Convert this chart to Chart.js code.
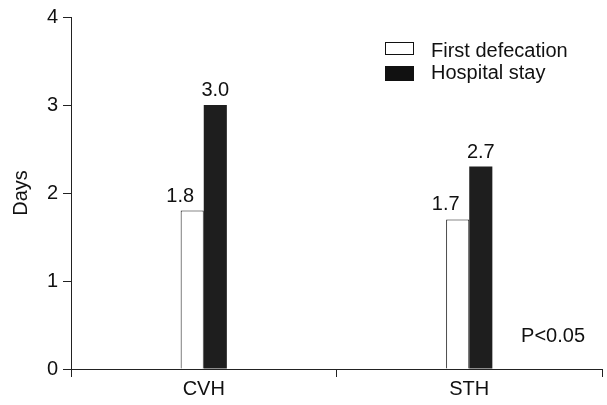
<!DOCTYPE html>
<html>
<head>
<meta charset="utf-8">
<script src="https://cdn.jsdelivr.net/npm/chart.js@4/dist/chart.umd.min.js"></script>
<style>
    html, body { margin: 0; padding: 0; background: #fff; }
    #wrap { width: 607px; height: 405px; }
</style>
</head>
<body>
<div id="wrap"><canvas id="daysChart"></canvas></div>
<script>
    // data
    const groups = ['CVH', 'STH'];
    const firstDefecation = [1.8, 1.7];
    const hospitalStay = [3.0, 2.3];
    // printed labels (the STH hospital stay bar is drawn lower than its printed value)
    const firstDefecationLabels = ['1.8', '1.7'];
    const hospitalStayLabels = ['3.0', '2.7'];
    const yTicks = [0, 1, 2, 3, 4];

    const FONT = 'Liberation Sans, Arial, Helvetica, sans-serif';
    const FS = 20;
    const AXIS = '#222';

    // value labels above bars
    const valueLabels = {
        id: 'valueLabels',
        afterDatasetsDraw(chart) {
            const ctx = chart.ctx;
            const sets = [
                { idx: 0, text: firstDefecationLabels, shift: -12 },
                { idx: 1, text: hospitalStayLabels, shift: 0 }
            ];
            ctx.save();
            ctx.font = FS + 'px ' + FONT;
            ctx.fillStyle = '#111';
            ctx.textAlign = 'center';
            ctx.textBaseline = 'alphabetic';
            sets.forEach(s => {
                chart.getDatasetMeta(s.idx).data.forEach((bar, i) => {
                    ctx.fillText(s.text[i], bar.x + s.shift, bar.y - 9);
                });
            });
            ctx.restore();
        }
    };

    // legend inside the plot + p value note
    const innerLegend = {
        id: 'innerLegend',
        afterDraw(chart) {
            const ctx = chart.ctx;
            const a = chart.chartArea;
            const x = a.left + 314;
            ctx.save();
            ctx.lineWidth = 1;
            ctx.strokeStyle = '#111';
            ctx.fillStyle = '#fff';
            ctx.fillRect(x + 0.5, 42.5, 28, 12);
            ctx.strokeRect(x + 0.5, 42.5, 28, 12);
            ctx.fillStyle = '#111';
            ctx.fillRect(x, 66, 29, 15);

            ctx.font = FS + 'px ' + FONT;
            ctx.textBaseline = 'alphabetic';
            ctx.textAlign = 'left';
            ctx.fillText(chart.data.datasets[0].label, x + 46, 57);
            ctx.fillText(chart.data.datasets[1].label, x + 46, 79);

            ctx.textAlign = 'right';
            ctx.fillText('P<0.05', a.right - 17, 342);
            ctx.restore();
        }
    };

    new Chart(document.getElementById('daysChart'), {
        type: 'bar',
        data: {
            labels: groups,
            datasets: [{
                label: 'First defecation',
                data: firstDefecation,
                backgroundColor: '#fff',
                borderColor: '#111',
                borderWidth: 1,
                categoryPercentage: 0.174,
                barPercentage: 1
            }, {
                label: 'Hospital stay',
                data: hospitalStay,
                backgroundColor: '#1e1e1e',
                borderColor: '#1e1e1e',
                borderWidth: 0,
                categoryPercentage: 0.174,
                barPercentage: 1
            }]
        },
        options: {
            responsive: true,
            maintainAspectRatio: false,
            animation: false,
            layout: { padding: { top: 16, right: 5, left: 0, bottom: 0 } },
            plugins: {
                legend: { display: false },
                tooltip: { enabled: false }
            },
            scales: {
                x: {
                    offset: true,
                    grid: {
                        offset: true,
                        drawOnChartArea: false,
                        drawTicks: true,
                        tickLength: 8,
                        color: AXIS
                    },
                    border: { color: AXIS, width: 1 },
                    ticks: {
                        color: '#111',
                        font: { family: FONT, size: FS },
                        padding: 0
                    },
                    afterFit(scale) { scale.height = 36; }
                },
                y: {
                    min: 0,
                    max: 4,
                    afterBuildTicks(scale) {
                        scale.ticks = yTicks.map(v => ({ value: v }));
                    },
                    grid: {
                        drawOnChartArea: false,
                        drawTicks: true,
                        tickLength: 8,
                        color: AXIS
                    },
                    border: { color: AXIS, width: 1 },
                    ticks: {
                        color: '#111',
                        font: { family: FONT, size: FS },
                        padding: 5
                    },
                    title: {
                        display: true,
                        text: 'Days',
                        color: '#111',
                        font: { family: FONT, size: FS },
                        padding: { top: 9, bottom: 0 }
                    },
                    afterFit(scale) { scale.width = 71; }
                }
            }
        },
        plugins: [valueLabels, innerLegend]
    });
</script>
</body>
</html>
